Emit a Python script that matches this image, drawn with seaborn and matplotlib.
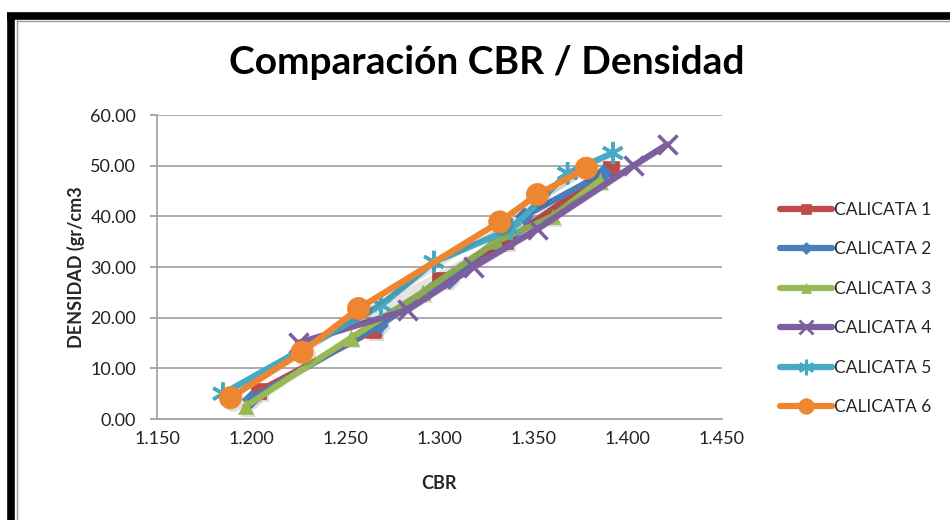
import matplotlib
matplotlib.use("Agg")
import matplotlib.pyplot as plt
import matplotlib.patheffects as pe
from matplotlib.lines import Line2D
import seaborn as sns
import pandas as pd

# CBR / density readings per test pit
series_names = ["CALICATA 1", "CALICATA 2", "CALICATA 3", "CALICATA 4", "CALICATA 5", "CALICATA 6"]

cbr_1 = [1.204, 1.265, 1.300, 1.335, 1.391]
dens_1 = [5.5, 17.5, 27.5, 35.0, 49.5]

cbr_2 = [1.200, 1.268, 1.305, 1.345, 1.387]
dens_2 = [4.0, 18.5, 27.5, 40.0, 48.5]

cbr_3 = [1.197, 1.253, 1.291, 1.330, 1.360, 1.385]
dens_3 = [2.5, 16.0, 25.0, 35.0, 40.0, 47.0]

cbr_4 = [1.225, 1.283, 1.318, 1.352, 1.403, 1.421]
dens_4 = [15.0, 21.5, 30.0, 37.5, 50.0, 54.2]

cbr_5 = [1.185, 1.269, 1.297, 1.338, 1.368, 1.392]
dens_5 = [5.0, 22.5, 31.0, 37.5, 48.5, 52.5]

cbr_6 = [1.189, 1.227, 1.257, 1.332, 1.352, 1.378]
dens_6 = [4.2, 13.2, 21.8, 38.9, 44.3, 49.5]

x_ticks = [1.150, 1.200, 1.250, 1.300, 1.350, 1.400, 1.450]
y_ticks = [0, 10, 20, 30, 40, 50, 60]

cbr_all = [cbr_1, cbr_2, cbr_3, cbr_4, cbr_5, cbr_6]
dens_all = [dens_1, dens_2, dens_3, dens_4, dens_5, dens_6]

colors = ["#BE4B48", "#4A7EBB", "#98B954", "#7D5FA0", "#46AAC5", "#EE8530"]
markers = ["s", "D", "^", "x", (6, 2, 0), "o"]
msizes = [11, 9, 11, 14, 16, 16]

sns.set_theme(style="white")
plt.rcParams["font.family"] = ["Lato", "DejaVu Sans"]

fig = plt.figure(figsize=(9.5, 5.2), dpi=100)
ax = fig.add_axes([157 / 950, 1 - 419 / 520, (722 - 157) / 950, (419 - 115) / 520])

shadow = [pe.SimplePatchShadow(offset=(2, -2), alpha=0.15), pe.Normal()]

for name, xs, ys, c, m, ms in zip(series_names, cbr_all, dens_all, colors, markers, msizes):
    df = pd.DataFrame({"CBR": xs, "DENS": ys})
    sns.lineplot(data=df, x="CBR", y="DENS", ax=ax, sort=False, color=c, lw=4.5,
                 marker=m, markersize=ms, markeredgewidth=2.5 if m in ("x", (6, 2, 0)) else 0.5,
                 markeredgecolor=c, markerfacecolor=c, solid_capstyle="round",
                 path_effects=shadow, legend=False, zorder=3)

ax.set_xlim(1.150, 1.450)
ax.set_ylim(0, 60)
ax.set_xticks(x_ticks)
ax.set_xticklabels([f"{v:.3f}" for v in x_ticks])
ax.set_yticks(y_ticks)
ax.set_yticklabels([f"{v:.2f}" for v in y_ticks])
ax.tick_params(axis="both", labelsize=13, colors="#222222", length=0, pad=9)
ax.tick_params(axis="y", length=5, color="#999999", width=1.2, pad=10, direction="out", left=True)
ax.grid(axis="y", color="#a6a6a6", lw=1.3)
ax.grid(axis="x", visible=False)
for s in ("top", "right"):
    ax.spines[s].set_visible(False)
for s in ("left", "bottom"):
    ax.spines[s].set_color("#a6a6a6")
    ax.spines[s].set_linewidth(1.3)

ax.set_xlabel("CBR", fontsize=13, fontweight="bold", labelpad=20)
ax.set_ylabel("DENSIDAD (gr/cm3", fontsize=13, fontweight="bold", labelpad=4)

fig.text(487 / 950, 1 - 63 / 520, "Comparación CBR / Densidad", ha="center", va="center",
         fontsize=28, fontweight="bold", color="#000000")

handles = [Line2D([0], [0], color=c, lw=4.5, marker=m, markersize=ms * 0.7,
                  markeredgewidth=2 if m in ("x", (6, 2, 0)) else 0.5,
                  markeredgecolor=c, markerfacecolor=c, solid_capstyle="round")
           for c, m, ms in zip(colors, markers, msizes)]
fig.legend(handles, series_names, loc="upper left", bbox_to_anchor=(780 / 950, 1 - 202 / 520),
           frameon=False, fontsize=12.5, handlelength=3.0, handletextpad=0.1,
           labelspacing=1.35, borderaxespad=0, borderpad=0)

# page frame around the chart
fig.add_artist(Line2D([7 / 950, 1], [1 - 16 / 520] * 2, color="black", lw=5.5,
                      solid_capstyle="butt", transform=fig.transFigure))
fig.add_artist(Line2D([10.5 / 950] * 2, [1 - 13 / 520, 0], color="black", lw=5.5,
                      solid_capstyle="butt", transform=fig.transFigure))
fig.add_artist(Line2D([17 / 950] * 2, [1 - 20 / 520, 0], color="#9a9a9a", lw=1,
                      transform=fig.transFigure))
fig.add_artist(Line2D([17 / 950, 1], [1 - 21 / 520] * 2, color="#9a9a9a", lw=1,
                      transform=fig.transFigure))

fig.savefig("out.png", dpi=100)
